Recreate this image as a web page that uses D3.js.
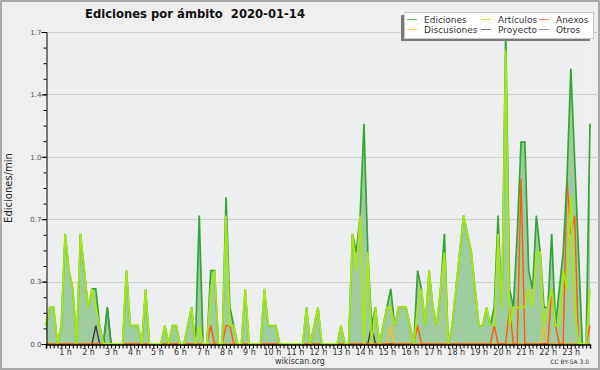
<!DOCTYPE html>
<html><head><meta charset="utf-8">
<script src="https://cdn.jsdelivr.net/npm/d3@7"></script>
<style>
html,body{margin:0;padding:0;background:#efefef;}
svg{display:block;}
text{font-family:"DejaVu Sans",sans-serif;}
</style></head>
<body>
<svg id="chart" width="600" height="370"></svg>
<script>
// ---- data: edits per minute, 10-minute bins from 00:00 to 23:40 ----
const title = "Ediciones por ámbito  2020-01-14";
const yTitle = "Ediciones/min";
const hourLabels = ["1 h","2 h","3 h","4 h","5 h","6 h","7 h","8 h","9 h","10 h","11 h","12 h","13 h","14 h","15 h","16 h","17 h","18 h","19 h","20 h","21 h","22 h","23 h"];
const yTickLabels = ["0.0","0.3","0.7","1.0","1.4","1.7"];
const binMinutes = d3.range(143).map(i => i * 10);

const ediciones = [
0.1,0.2,0.2,0,0.1,0.6,0.4,0.3,0,0.6, 0.4,0.2,0.3,0.3,0.1,0,0.2,0,0,0,
0,0.4,0.1,0.1,0.1,0,0.3,0,0,0, 0,0.1,0,0.1,0.1,0,0,0.1,0.2,0,
0.7,0,0,0.4,0.4,0,0,0.8,0.2,0.1, 0,0,0.3,0,0,0,0,0.3,0.1,0.1,
0.1,0,0,0,0,0,0,0,0.2,0, 0.1,0.2,0,0,0,0,0,0.1,0,0,
0.6,0.5,0.7,1.2,0.5,0.1,0.2,0,0.1,0.2, 0.3,0.1,0.2,0.2,0.2,0.1,0,0.4,0.3,0.1,
0.4,0.2,0.1,0.3,0.6,0,0.1,0.3,0.5,0.7, 0.6,0.5,0.3,0.1,0.1,0.2,0.1,0.2,0.7,0.2,
1.7,0.3,0.2,0.6,1.1,1.1,0.4,0.3,0.7,0.5, 0.2,0.2,0.6,0.1,0.3,0.5,0.9,1.5,1.0,0.5,
0,0,1.2];
const articulos = [
0.1,0.2,0.2,0,0.1,0.6,0.4,0.3,0,0.6, 0.4,0.2,0.3,0.2,0.1,0,0,0,0,0,
0,0.4,0.1,0.1,0.1,0,0.3,0,0,0, 0,0.1,0,0.1,0.1,0,0,0.1,0.2,0,
0.1,0,0,0.3,0.4,0,0,0.7,0.1,0.1, 0,0,0.3,0,0,0,0,0.3,0.1,0.1,
0.1,0,0,0,0,0,0,0,0.2,0, 0.1,0.2,0,0,0,0,0,0.1,0,0,
0.6,0.4,0.7,0,0.5,0,0.2,0,0.1,0.2, 0.2,0.1,0.2,0.2,0.2,0.1,0,0.2,0.3,0.1,
0.4,0.2,0.1,0.3,0.5,0,0.1,0.3,0.5,0.7, 0.6,0.5,0.3,0.1,0.1,0.2,0.1,0.1,0.6,0.2,
1.6,0.1,0.2,0.2,0.2,0.2,0.3,0.2,0.5,0.5, 0.1,0.2,0.3,0.1,0.1,0.4,0.3,0.8,0.2,0,
0,0,0.3];
const anexos = [
0,0,0,0,0,0,0,0,0,0, 0,0,0,0,0,0,0,0,0,0,
0,0,0,0,0,0,0,0,0,0, 0,0,0,0,0,0,0,0,0,0,
0,0,0,0.1,0,0,0,0.1,0.1,0, 0,0,0,0,0,0,0,0,0,0,
0,0,0,0,0,0,0,0,0,0, 0,0,0,0,0,0,0,0,0,0,
0,0,0,0,0,0,0,0,0,0, 0,0,0,0,0,0,0,0.1,0,0,
0,0,0,0,0,0,0,0,0,0, 0,0,0,0,0,0,0,0.1,0,0,
0,0.2,0,0,0.9,0,0,0,0,0, 0,0,0.3,0.1,0,0,0.9,0.6,0.7,0,
0,0,0.1];
const discusiones = [
0,0,0,0,0,0,0,0,0,0, 0,0,0,0,0,0,0,0,0,0,
0,0,0,0,0,0,0,0,0,0, 0,0,0,0,0,0,0,0,0,0,
0,0,0,0,0,0,0,0,0,0, 0,0,0,0,0,0,0,0,0,0,
0,0,0,0,0,0,0,0,0,0, 0,0,0,0,0,0,0,0,0,0,
0,0,0,0,0,0,0,0,0,0, 0.1,0,0,0,0,0,0,0,0,0,
0,0,0,0,0,0,0,0,0,0, 0,0,0,0,0,0,0,0,0,0,
0,0,0,0,0,0,0,0,0,0, 0.1,0,0,0,0,0,0,0,0,0,
0,0,0];
const proyecto = [
0,0,0,0,0,0,0,0,0,0, 0,0,0,0.1,0,0,0.2,0,0,0,
0,0,0,0,0,0,0,0,0,0, 0,0,0,0,0,0,0,0,0,0,
0,0,0,0,0,0,0,0,0,0, 0,0,0,0,0,0,0,0,0,0,
0,0,0,0,0,0,0,0,0,0, 0,0,0,0,0,0,0,0,0,0,
0,0,0,0,0,0.1,0,0,0,0, 0,0,0,0,0,0,0,0,0,0,
0,0,0,0,0,0,0,0,0,0, 0,0,0,0,0,0,0,0,0,0,
0,0,0,0,0,0,0,0,0,0, 0,0,0,0,0,0,0,0,0,0,
0,0,0];
const otros = new Array(143).fill(0);

const seriesNames = ["Ediciones","Artículos","Anexos","Discusiones","Proyecto","Otros"];
const seriesColors = ["#35a535","#a8e614","#ff5a10","#f5c21a","#3c3c3c","#9040e8"];

// ---- drawing ----
const svg = d3.select("#chart");
const W = 600, H = 370;
const x0 = 46, x1 = 590, y0 = 344, y1 = 32;

svg.append("rect").attr("x",1).attr("y",1).attr("width",W-2).attr("height",H-2)
  .attr("fill","#efefef").attr("stroke","#a9a9a9").attr("stroke-width",2);
svg.append("rect").attr("x",x0).attr("y",y1).attr("width",x1-x0).attr("height",y0-y1)
  .attr("fill","#edeef0");

const x = d3.scaleLinear().domain([0, 1420]).range([x0, x1]);
const yMax = 1.7;
const y = d3.scaleLinear().domain([0, yMax]).range([y0, y1]);
const majorY = d3.range(6).map(i => i * yMax / 5);
const minorY = d3.range(21).map(i => i * yMax / 20);

// grid
svg.append("g").selectAll("line").data(majorY.slice(1)).join("line")
  .attr("x1", x0).attr("x2", W - 1).attr("y1", d => Math.round(y(d)) + 0.5).attr("y2", d => Math.round(y(d)) + 0.5)
  .attr("stroke", "#cfcfcf").attr("stroke-width", 1);

const pts = arr => arr.map((v, i) => [binMinutes[i], v]);
const line = d3.line().x(d => x(d[0])).y(d => y(d[1]));
const area = d3.area().x(d => x(d[0])).y0(y(0)).y1(d => y(d[1]));

svg.append("path").datum(pts(ediciones)).attr("d", area).attr("fill", "#9ecc9e");

const order = [
  [otros, 5, 1.2], [proyecto, 4, 1.4], [discusiones, 3, 1.4], [anexos, 2, 1.4],
  [ediciones, 0, 1.7], [articulos, 1, 1.8]
];
order.forEach(([arr, ci, sw]) => {
  svg.append("path").datum(pts(arr)).attr("d", line)
    .attr("fill", "none").attr("stroke", seriesColors[ci]).attr("stroke-width", sw)
    .attr("stroke-linejoin", "miter");
});

// y axis
const yAxis = d3.axisLeft(y).tickValues(minorY).tickSize(3).tickFormat("");
const gy = svg.append("g").attr("transform", `translate(${x0 + 0.5},0)`).call(yAxis);
gy.select(".domain").attr("stroke", "#000");
gy.selectAll(".tick line").attr("stroke", "#000");
const yMajor = d3.axisLeft(y).tickValues(majorY).tickSize(5)
  .tickFormat((d, i) => yTickLabels[i]);
const gy2 = svg.append("g").attr("transform", `translate(${x0 + 0.5},0)`).call(yMajor);
gy2.select(".domain").remove();
gy2.selectAll(".tick line").attr("stroke", "#000");
gy2.selectAll("text").attr("font-size", 7).attr("fill", "#555").attr("x", -5)
  .style("font-family", "DejaVu Sans");

// x axis
const xAxis = d3.axisBottom(x).tickValues(binMinutes).tickSize(4).tickFormat("");
const gx = svg.append("g").attr("transform", `translate(0,${y0 + 0.5})`).call(xAxis);
gx.select(".domain").attr("stroke", "#000").attr("stroke-width", 1.5);
gx.selectAll(".tick line").attr("stroke", "#000");
const hourTicks = d3.range(1, 24).map(h => h * 60);
const xLab = d3.axisBottom(x).tickValues(hourTicks).tickSize(0)
  .tickFormat((d, i) => hourLabels[i]);
const gx2 = svg.append("g").attr("transform", `translate(-4,${y0})`).call(xLab);
gx2.select(".domain").remove();
gx2.selectAll("text").attr("font-size", 8).attr("fill", "#333").attr("dy", "0.35em").attr("y", 8)
  .style("font-family", "DejaVu Sans");

// titles
svg.append("text").attr("x", 85).attr("y", 18).attr("font-size", 11.6).attr("font-weight", "bold")
  .attr("fill", "#111").style("white-space", "pre").text(title);
svg.append("text").attr("transform", `translate(12,${(y0 + y1) / 2}) rotate(-90)`)
  .attr("text-anchor", "middle").attr("font-size", 10).attr("fill", "#222").text(yTitle);
svg.append("text").attr("x", 300).attr("y", 364).attr("text-anchor", "middle")
  .attr("font-size", 8).attr("fill", "#333").text("wikiscan.org");
svg.append("text").attr("x", 589).attr("y", 364).attr("text-anchor", "end")
  .attr("font-size", 6).attr("fill", "#333").text("CC BY-SA 3.0");

// legend
const lg = svg.append("g");
lg.append("rect").attr("x", 401).attr("y", 15).attr("width", 189).attr("height", 26).attr("fill", "#7a7a7a");
lg.append("rect").attr("x", 404.5).attr("y", 12.5).attr("width", 189).attr("height", 26)
  .attr("fill", "#fff").attr("stroke", "#c8c8c8");
const legendPos = [[407, 19.5], [481, 19.5], [539, 19.5], [407, 29.5], [481, 29.5], [539, 29.5]];
const legendOrder = [0, 1, 2, 3, 4, 5];
legendOrder.forEach((ci, k) => {
  const [lx, ly] = legendPos[k];
  lg.append("line").attr("x1", lx).attr("x2", lx + 10).attr("y1", ly).attr("y2", ly)
    .attr("stroke", seriesColors[ci]).attr("stroke-width", 1).attr("opacity", 0.7);
  lg.append("text").attr("x", lx + 17).attr("y", ly).attr("dy", "0.35em")
    .attr("font-size", 9).attr("fill", "#333").text(seriesNames[ci]);
});
</script>
</body></html>
